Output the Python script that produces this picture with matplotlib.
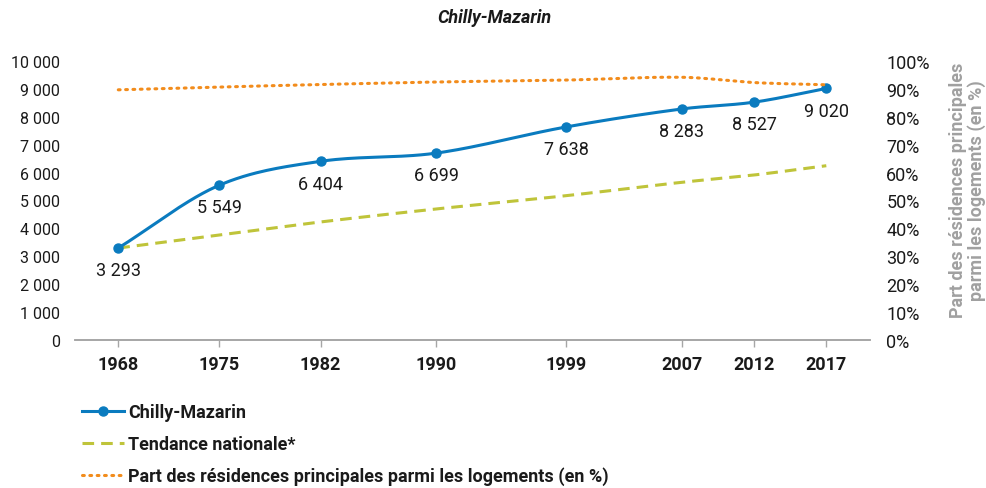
import numpy as np
import matplotlib
matplotlib.use("Agg")
import matplotlib.pyplot as plt
from matplotlib.ticker import FuncFormatter

plt.rcParams['font.family'] = ['Roboto', 'DejaVu Sans']

years = [1968, 1975, 1982, 1990, 1999, 2007, 2012, 2017]
population = [3293, 5549, 6404, 6699, 7638, 8283, 8527, 9020]
tendance = [3293, 3763, 4229, 4695, 5172, 5652, 5914, 6247]
part_rp = [89.7, 90.7, 91.6, 92.5, 93.2, 94.2, 92.3, 91.5]

BLUE = '#0a7bbf'
GREEN = '#bfc43a'
ORANGE = '#f28c1c'
FS = 13


def smooth(x, y, n=30):
    # cubic hermite through the points, catmull-rom style tangents
    x = np.asarray(x, float)
    y = np.asarray(y, float)
    m = np.zeros_like(y)
    m[0] = (y[1] - y[0]) / (x[1] - x[0])
    m[-1] = (y[-1] - y[-2]) / (x[-1] - x[-2])
    for i in range(1, len(x) - 1):
        m[i] = (y[i + 1] - y[i - 1]) / (x[i + 1] - x[i - 1])
    xs, ys = [], []
    for i in range(len(x) - 1):
        h = x[i + 1] - x[i]
        t = np.linspace(0, 1, n, endpoint=False)
        h00 = 2 * t**3 - 3 * t**2 + 1
        h10 = t**3 - 2 * t**2 + t
        h01 = -2 * t**3 + 3 * t**2
        h11 = t**3 - t**2
        xs.append(x[i] + t * h)
        ys.append(h00 * y[i] + h10 * h * m[i] + h01 * y[i + 1] + h11 * h * m[i + 1])
    xs.append([x[-1]])
    ys.append([y[-1]])
    return np.concatenate(xs), np.concatenate(ys)


def fmt_thousands(v, pos=None):
    return '{:,.0f}'.format(v).replace(',', ' ')


fig = plt.figure(figsize=(9.86, 4.89), dpi=100)
ax = fig.add_axes([0.076, 0.303, 0.806, 0.570])
ax2 = ax.twinx()

sx, sy = smooth(years, population)
ax.plot(sx, sy, color=BLUE, lw=2.2, zorder=4)
ax.plot(years, population, 'o', color=BLUE, ms=6.5, zorder=5)
h1, = ax.plot([], [], '-o', color=BLUE, lw=2.2, ms=6.5)

tx, ty = smooth(years, tendance)
h2, = ax.plot(tx, ty, color=GREEN, lw=2.2, ls=(0, (3.8, 2.3)), zorder=3)

px, py = smooth(years, part_rp)
h3, = ax2.plot(px, py, color=ORANGE, lw=2.2, ls=(0, (0.6, 1.8)), dash_capstyle='round')

for x, v in zip(years, population):
    ax.annotate(fmt_thousands(v), (x, v), xytext=(0, -16), textcoords='offset points',
                ha='center', va='center', fontsize=FS, color='#1a1a1a', zorder=6)

ax.set_xlim(1965.0, 2020.0)
ax.set_ylim(0, 10000)
ax.set_yticks(np.arange(0, 10001, 1000))
ax.yaxis.set_major_formatter(FuncFormatter(fmt_thousands))
ax.set_xticks(years)
ax.set_xticklabels([str(y) for y in years], fontweight='bold')

ax2.set_ylim(0, 100)
ax2.set_yticks(np.arange(0, 101, 10))
ax2.yaxis.set_major_formatter(FuncFormatter(lambda v, p: '{:.0f}%'.format(v)))

for a in (ax, ax2):
    for s in ('top', 'left', 'right'):
        a.spines[s].set_visible(False)
    a.spines['bottom'].set_color('#a6a6a6')
    a.spines['bottom'].set_linewidth(1.2)

ax.tick_params(axis='x', length=5, color='#a6a6a6', width=1, labelsize=FS, pad=6, labelcolor='#1a1a1a')
ax.tick_params(axis='y', length=0, labelsize=11.5, pad=11, labelcolor='#1a1a1a')
ax2.tick_params(axis='y', length=0, labelsize=FS, pad=12, labelcolor='#1a1a1a')

ax2.set_ylabel('Part des résidences principales\nparmi les logements (en %)',
               fontsize=FS, fontweight='bold', color='#a0a0a0', linespacing=1.0)
ax2.yaxis.set_label_coords(1.1, 0.54)

fig.text(0.501, 0.963, 'Chilly-Mazarin', ha='center', va='center', fontsize=FS,
         fontweight='bold', fontstyle='italic', color='#1a1a1a')

leg = fig.legend([h1, h2, h3],
                 ['Chilly-Mazarin', 'Tendance nationale*',
                  'Part des résidences principales parmi les logements (en %)'],
                 loc='upper left', bbox_to_anchor=(0.076, 0.188), frameon=False,
                 prop={'weight': 'bold', 'size': FS}, handlelength=2.3,
                 handletextpad=0.25, labelspacing=0.75, borderaxespad=0)
for t in leg.get_texts():
    t.set_color('#1a1a1a')

fig.savefig('out.png', dpi=100)
